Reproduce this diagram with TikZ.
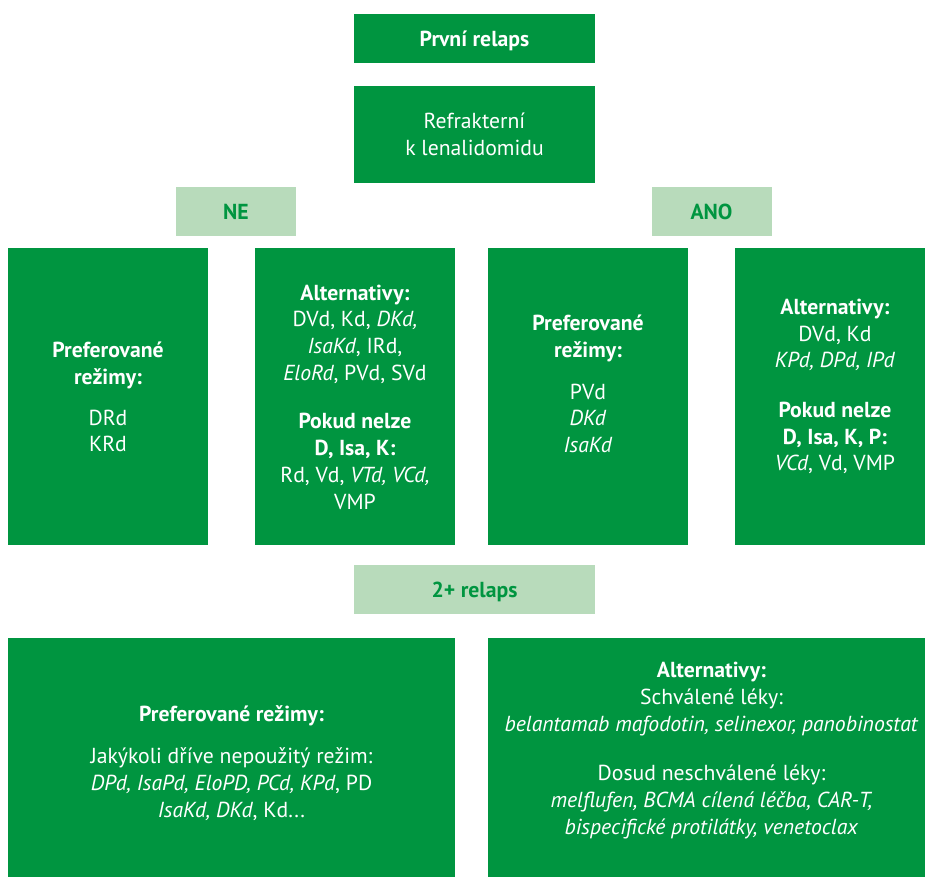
\documentclass[tikz,border=0pt]{standalone}
\usepackage{fontspec}
\setmainfont{PT Sans}
\definecolor{relgreen}{RGB}{0,149,64}
\definecolor{relpale}{RGB}{184,219,187}
\newcommand{\relfont}{\fontsize{21.7}{26.7}\selectfont}

\begin{document}
\begin{tikzpicture}[x=1pt, y=-1pt,
  darkbox/.style={fill=relgreen, inner sep=0pt, outer sep=0pt},
  palebox/.style={fill=relpale, inner sep=0pt, outer sep=0pt, minimum width=120, minimum height=49,
    text=relgreen, font=\relfont\bfseries, text height=15pt, text depth=0pt},
  boxtext/.style={text=white, align=center, inner sep=0pt, font=\relfont}]
\useasboundingbox (0,0) rectangle (925,876);
\clip (0,0) rectangle (925,876);
% first relapse
\node[darkbox, boxtext, minimum width=241, minimum height=49, font=\relfont\bfseries,
  text height=15pt, text depth=0pt] (first) at (474.5,38.5) {První relaps};
\node[darkbox, boxtext, minimum width=241, minimum height=97, text depth=0pt] (refr) at (474.5,134.5) {Refrakterní\\k lenalidomidu};
\node[palebox] (ne) at (236,211.5) {NE};
\node[palebox] (ano) at (711.5,211.5) {ANO};
% NE
\node[darkbox, minimum width=200, minimum height=297] (nepref) at (108,396.5) {};
\node[boxtext] (neprefT) at (108,397) {\textbf{Preferované}\\\textbf{režimy:}\\[14pt]DRd\\KRd};
\node[darkbox, minimum width=200, minimum height=297] (nealt) at (355,396.5) {};
\node[boxtext] (nealtT) at (355,397) {\textbf{Alternativy:}\\DVd, Kd, \textit{DKd,}\\\textit{IsaKd}, IRd,\\\textit{EloRd}, PVd, SVd\\[22pt]\textbf{Pokud nelze}\\\textbf{D, Isa, K:}\\Rd, Vd, \textit{VTd, VCd,}\\VMP};
% ANO
\node[darkbox, minimum width=200, minimum height=297] (anopref) at (588,396.5) {};
\node[boxtext] (anoprefT) at (588,384) {\textbf{Preferované}\\\textbf{režimy:}\\[15pt]PVd\\\textit{DKd}\\\textit{IsaKd}};
\node[darkbox, minimum width=200, minimum height=297] (anoalt) at (835,396.5) {};
\node[boxtext] (anoaltT) at (835,386.5) {\textbf{Alternativy:}\\DVd, Kd\\\textit{KPd, DPd, IPd}\\[23pt]\textbf{Pokud nelze}\\\textbf{D, Isa, K, P:}\\\textit{VCd}, Vd, VMP};
% 2+ relapse
\node[palebox, minimum width=241] (second) at (474.5,589.5) {2+ relaps};
\node[darkbox, minimum width=447, minimum height=248] (lastpref) at (231.5,762) {};
\node[boxtext] (lastprefT) at (231.5,763) {\textbf{Preferované režimy:}\\[16pt]Jakýkoli dříve nepoužitý režim:\\\textit{DPd, IsaPd, EloPD, PCd, KPd}, PD\\\textit{IsaKd, DKd}, Kd...};
\node[darkbox, minimum width=447, minimum height=248] (lastalt) at (711.5,762) {};
\node[boxtext] (lastaltT) at (711.5,750.5) {\textbf{Alternativy:}\\Schválené léky:\\\textit{belantamab mafodotin, selinexor, panobinostat}\\[23pt]Dosud neschválené léky:\\\textit{melflufen, BCMA cílená léčba, CAR-T,}\\\textit{bispecifické protilátky, venetoclax}};
\end{tikzpicture}
\end{document}
